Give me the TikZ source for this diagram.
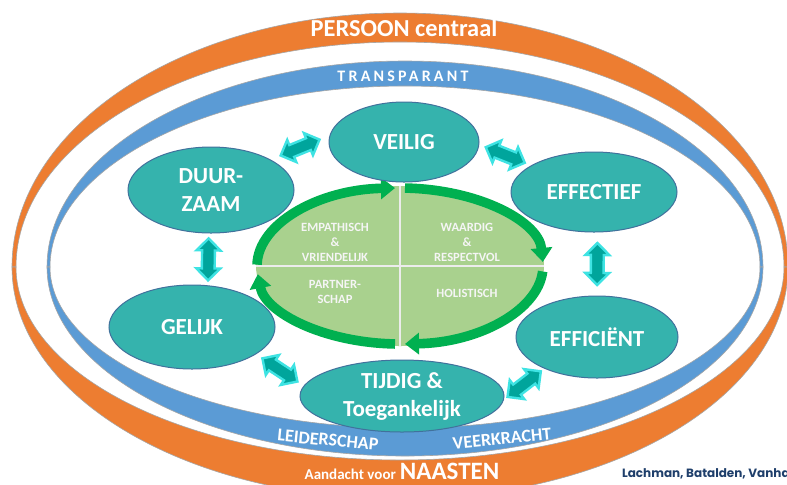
\documentclass[tikz,border=0pt]{standalone}
\usepackage{fontspec}
\setmainfont{Carlito}
\newfontfamily\bronfont{Poppins}
\usepackage{tikz}
\usetikzlibrary{shapes.geometric,shapes.arrows,arrows.meta}

\definecolor{oranje}{HTML}{ED7D31}
\definecolor{blauw}{HTML}{5B9BD5}
\definecolor{kerngroen}{HTML}{35B3AD}
\definecolor{rand}{HTML}{41719C}
\definecolor{groen}{HTML}{00B050}
\definecolor{lichtgroen}{HTML}{A9D18E}
\definecolor{pijl}{HTML}{00A59C}
\definecolor{pijlrand}{HTML}{3EE3E3}
\definecolor{navy}{HTML}{1F3F6B}

\tikzset{
 kern/.style={ellipse, fill=kerngroen, draw=rand, line width=0.5pt, text=white, inner sep=0pt,
   align=center, font=\bfseries\fontsize{11.5}{14}\selectfont},
 dpijl/.style={double arrow, fill=pijl, draw=pijlrand, line width=1.2pt, inner xsep=0pt, inner ysep=2.6pt,
   double arrow head extend=2.8pt, minimum height=21pt},
 ring/.style={groen, line width=4.8pt, -{Triangle[length=7pt,width=10.5pt]}},
 band/.style={draw=black!35, line width=0.3pt},
 kwadrant/.style={text=white!92!gray, align=center, font=\bfseries\fontsize{6.3}{7.5}\selectfont},
 bandtekst/.style={text=white, font=\bfseries\fontsize{9}{10}\selectfont}
}

\begin{document}
\begin{tikzpicture}[x=0.5pt, y=-0.5pt]
 \useasboundingbox (0,0) rectangle (787,484);
 \clip (0,0) rectangle (787,484);
 \fill[white] (0,0) rectangle (787,484);

 %outer band
 \fill[oranje, band] (12,267) arc[start angle=180, end angle=360, x radius=388, y radius=254]
     -- (784,267) arc[start angle=0, end angle=-180, x radius=384, y radius=225] -- cycle;
 \fill[oranje, band] (12,267) arc[start angle=180, end angle=0, x radius=388, y radius=232]
     -- (784,267) arc[start angle=0, end angle=180, x radius=384, y radius=193] -- cycle;
 %inner band
 \fill[blauw, band] (47,267) arc[start angle=180, end angle=360, x radius=358, y radius=206]
     -- (760,267) arc[start angle=0, end angle=-180, x radius=355, y radius=181] -- cycle;
 \fill[blauw, band] (47,267) arc[start angle=180, end angle=0, x radius=358, y radius=189]
     -- (760,267) arc[start angle=0, end angle=180, x radius=355, y radius=161] -- cycle;

 \node[bandtekst, font=\bfseries\fontsize{12.2}{14}\selectfont] (persoon) at (404,28) {PERSOON centraal};
 \node[bandtekst, font=\bfseries\fontsize{8}{9}\selectfont\addfontfeatures{LetterSpace=20}] (transparant) at (403,76) {TRANSPARANT};
 \node[bandtekst, rotate=-5.5] (leiderschap) at (328,440) {LEIDERSCHAP};
 \node[bandtekst, rotate=5.8] (veerkracht) at (502,439) {VEERKRACHT};
 \node[bandtekst, anchor=base, inner sep=0pt] (naasten) at (402,479)
   {{\fontsize{7.5}{9}\selectfont Aandacht voor} {\fontsize{12.5}{14}\selectfont NAASTEN}};
 \node[anchor=base west, text=navy, font=\bronfont\bfseries\fontsize{6}{7}\selectfont] (bron) at (615,477)
   {Lachman, Batalden, Vanhaecht};

 %centre
 \node[ellipse, fill=lichtgroen, minimum width=144pt, minimum height=80pt, inner sep=0pt] (midden) at (400,266) {};
 \draw[white!85!gray, line width=1pt] (midden.north) -- (midden.south);
 \draw[white!85!gray, line width=1pt] (midden.west) -- (midden.east);
 \foreach \van/\tot in {181/268, 272/357, 4/88, 92/174} {
   \draw[ring] (midden.center) ++(\van:143 and 78) arc[start angle=\van, end angle=\tot, x radius=143, y radius=78];
 }
 \node[kwadrant] (empathisch) at (335,242) {EMPATHISCH\\\&\\VRIENDELIJK};
 \node[kwadrant] (waardig) at (467,242) {WAARDIG\\\&\\RESPECTVOL};
 \node[kwadrant] (partner) at (335,292) {PARTNER-\\SCHAP};
 \node[kwadrant] (holistisch) at (467,293) {HOLISTISCH};

 %domains
 \foreach \naam/\x/\y/\b/\h/\tekst in {veilig/404/142/75/40/VEILIG,
     duurzaam/211/190/83/43/{DUUR-\\ZAAM}, effectief/594/192/83/40/EFFECTIEF,
     gelijk/192/327/83/42/GELIJK, efficient/597/337/81/41/EFFICIËNT,
     tijdig/402/396/102/36/{TIJDIG \&\\Toegankelijk}} {
   \node[kern, minimum width=\b pt, minimum height=\h pt] (\naam) at (\x,\y) {\tekst};
 }

 %arrows
 \foreach \van/\tot in {duurzaam.27/veilig.175, veilig.-2/effectief.157, effectief.-85/efficient.90,
     efficient.211/tijdig.-2, tijdig.174/gelijk.-23, gelijk.69/duurzaam.-93} {
   \path (\van) -- (\tot) node[dpijl, midway, sloped] {};
 }
\end{tikzpicture}
\end{document}
